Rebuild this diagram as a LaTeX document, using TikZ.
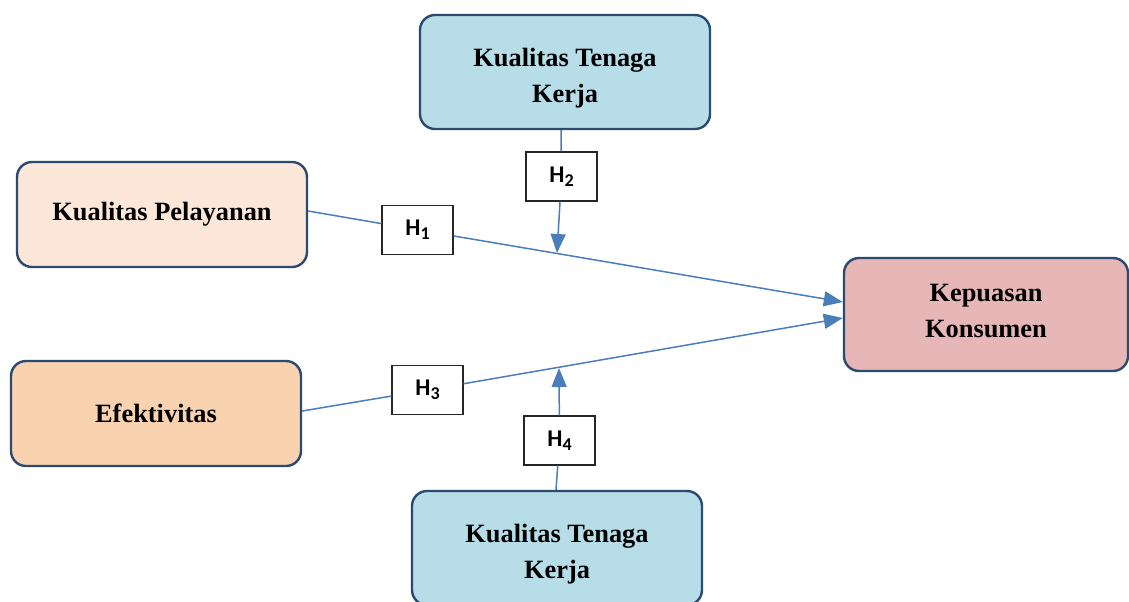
\documentclass[tikz,border=0pt]{standalone}
\usepackage{fontspec}
\setmainfont{Liberation Serif}
\newfontfamily\hfont{Carlito}
\usepackage{xcolor}
\usetikzlibrary{positioning, arrows.meta}

\definecolor{boxline}{HTML}{2B4A6F}
\definecolor{arrblue}{HTML}{4A7EBB}
\definecolor{tkfill}{HTML}{B7DEE8}
\definecolor{kpfill}{HTML}{FCE7D9}
\definecolor{effill}{HTML}{F9D2B0}
\definecolor{kkfill}{HTML}{E6B7B6}

\newcommand{\hlab}[1]{H{\raisebox{-0.3ex}{\fontsize{9}{9}\selectfont #1}}}
% struts to nudge text inside a box
\newcommand{\upstrut}{\rule{0pt}{15.2pt}}
\newcommand{\dnstrut}{\rule[-4pt]{0pt}{4pt}}

\begin{document}
\begin{tikzpicture}[
  x=0.5pt, y=-0.5pt,
  var/.style={draw=boxline, line width=1.2pt, rounded corners=7.5pt,
              minimum width=145pt, minimum height=52.5pt, align=center,
              font=\bfseries\fontsize{13.2}{18}\selectfont},
  hyp/.style={draw=black!85, fill=white, line width=0.6pt,
              minimum width=35.5pt, minimum height=24.5pt, inner sep=0pt,
              font=\hfont\bfseries\fontsize{12}{12}\selectfont},
  link/.style={draw=arrblue, line width=0.75pt,
               -{Triangle[length=9.5pt, width=7.5pt]}},
]
  \useasboundingbox (0,0) rectangle (1129,601);

  % Variables
  \node[var, fill=tkfill, minimum height=57pt] (tk1) at (565,72) {\upstrut Kualitas Tenaga\\Kerja};
  \node[var, fill=kpfill] (kp) at (162,214.5) {Kualitas Pelayanan};
  \node[var, fill=effill] (ef) at (156,413.5) {Efektivitas};
  \node[var, fill=kkfill, minimum width=142pt, minimum height=56.5pt] (kk) at (986,314.5) {Kepuasan\\Konsumen\dnstrut};
  \node[var, fill=tkfill, minimum height=57pt] (tk2) at (557,548) {\upstrut Kualitas Tenaga\\Kerja};

  % Hypothesis labels
  \node[hyp] (h1) at (417.5,229.8) {\hlab{1}};
  \node[hyp] (h2) at (561.5,176.5) {\hlab{2}};
  \node[hyp] (h3) at (427.5,390) {\hlab{3}};
  \node[hyp] (h4) at (559.5,440.5) {\hlab{4}};

  % Points where the moderating arrows meet the main paths
  \coordinate (m1) at (557,253);
  \coordinate (m2) at (559,368);

  % Main paths
  \draw[link] ([yshift=1.75pt]kp.east) -- (h1) -- ([yshift=6.25pt]kk.west);
  \draw[link] ([yshift=1.25pt]ef.east) -- (h3) -- ([yshift=-1.75pt]kk.west);

  % Moderating paths
  \draw[link] (tk1.south -| 561,0) -- (h2) -- (m1);
  \draw[link] (tk2.north -| 556,0) -- (h4) -- (m2);
\end{tikzpicture}
\end{document}
